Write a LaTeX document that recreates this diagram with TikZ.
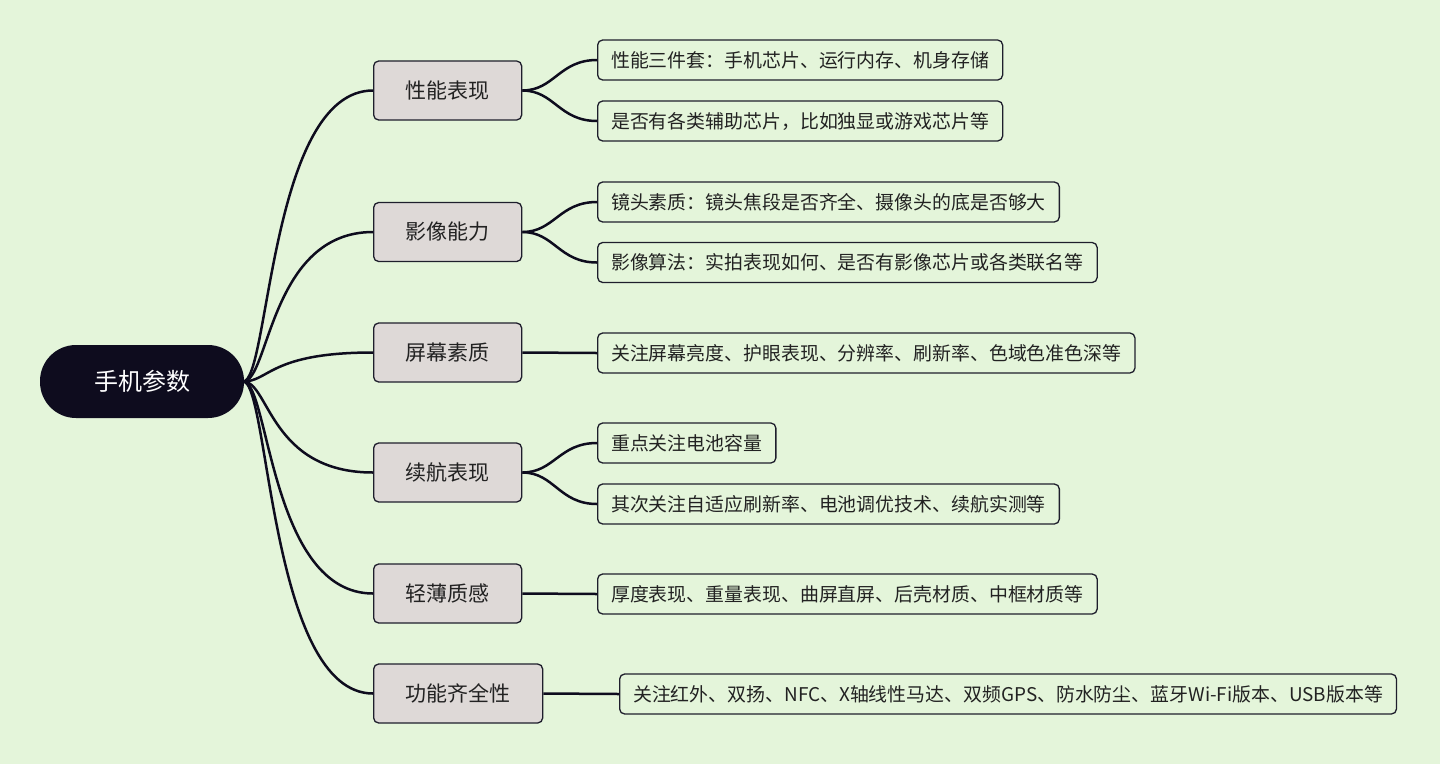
\documentclass[tikz,border=0pt]{standalone}
\usepackage{fontspec}
\setmainfont{Noto Sans CJK SC}
\definecolor{bg}{HTML}{E4F5DA}
\definecolor{ink}{HTML}{0E0C1E}
\definecolor{boxfill}{HTML}{DED9D7}
\definecolor{edgecol}{HTML}{1E1E2C}
\definecolor{textcol}{HTML}{222222}
\begin{document}
\begin{tikzpicture}[x=1pt,y=-1pt,
  rootnode/.style={fill=ink, text=white, rounded corners=36pt, minimum width=204pt, minimum height=73pt, inner sep=0pt, font=\fontsize{24}{28}\selectfont},
  topic/.style={fill=boxfill, draw=edgecol, line width=1.3pt, rounded corners=5pt, anchor=west, minimum height=59pt, inner xsep=32pt, inner ysep=0pt, font=\fontsize{21}{25}\selectfont, text=textcol},
  leaf/.style={fill=bg, draw=edgecol, line width=1.3pt, rounded corners=5pt, anchor=west, minimum height=40pt, inner xsep=13.5pt, inner ysep=0pt, font=\fontsize{18.9}{22}\selectfont, text=textcol},
  link/.style={draw=ink, line width=2.5pt}]
\fill[bg] (0,0) rectangle (1440,764);
\useasboundingbox (0,0) rectangle (1440,764);

\node[rootnode] (root) at (142,381.5) {手机参数};

\node[topic] (t1) at (373,90.5) {性能表现};
\node[topic] (t2) at (373,232) {影像能力};
\node[topic] (t3) at (373,352.5) {屏幕素质};
\node[topic] (t4) at (373,472.5) {续航表现};
\node[topic] (t5) at (373,593.5) {轻薄质感};
\node[topic] (t6) at (373,693.5) {功能齐全性};

\node[leaf] (l1) at (597,60) {性能三件套：手机芯片、运行内存、机身存储};
\node[leaf] (l2) at (597,121) {是否有各类辅助芯片，比如独显或游戏芯片等};
\node[leaf] (l3) at (597,202) {镜头素质：镜头焦段是否齐全、摄像头的底是否够大};
\node[leaf] (l4) at (597,262.5) {影像算法：实拍表现如何、是否有影像芯片或各类联名等};
\node[leaf] (l5) at (597,353) {关注屏幕亮度、护眼表现、分辨率、刷新率、色域色准色深等};
\node[leaf] (l6) at (597,443) {重点关注电池容量};
\node[leaf] (l7) at (597,504) {其次关注自适应刷新率、电池调优技术、续航实测等};
\node[leaf] (l8) at (597,594) {厚度表现、重量表现、曲屏直屏、后壳材质、中框材质等};
\node[leaf] (l9) at (619,694) {关注红外、双扬、NFC、X轴线性马达、双频GPS、防水防尘、蓝牙Wi-Fi版本、USB版本等};

\coordinate (ro) at ([xshift=-1pt]root.east);
\foreach \t in {t1,t2,t3,t4,t5,t6}
  \draw[link] (ro) .. controls +(26,0) and +(-103,0) .. (\t.west);

\draw[link] (t1.east) .. controls +(32,0) and +(-38,0) .. (l1.west);
\draw[link] (t1.east) .. controls +(32,0) and +(-38,0) .. (l2.west);
\draw[link] (t2.east) .. controls +(32,0) and +(-38,0) .. (l3.west);
\draw[link] (t2.east) .. controls +(32,0) and +(-38,0) .. (l4.west);
\draw[link] (t3.east) -- (l5.west);
\draw[link] (t4.east) .. controls +(32,0) and +(-38,0) .. (l6.west);
\draw[link] (t4.east) .. controls +(32,0) and +(-38,0) .. (l7.west);
\draw[link] (t5.east) -- (l8.west);
\draw[link] (t6.east) -- (l9.west);
\end{tikzpicture}
\end{document}
